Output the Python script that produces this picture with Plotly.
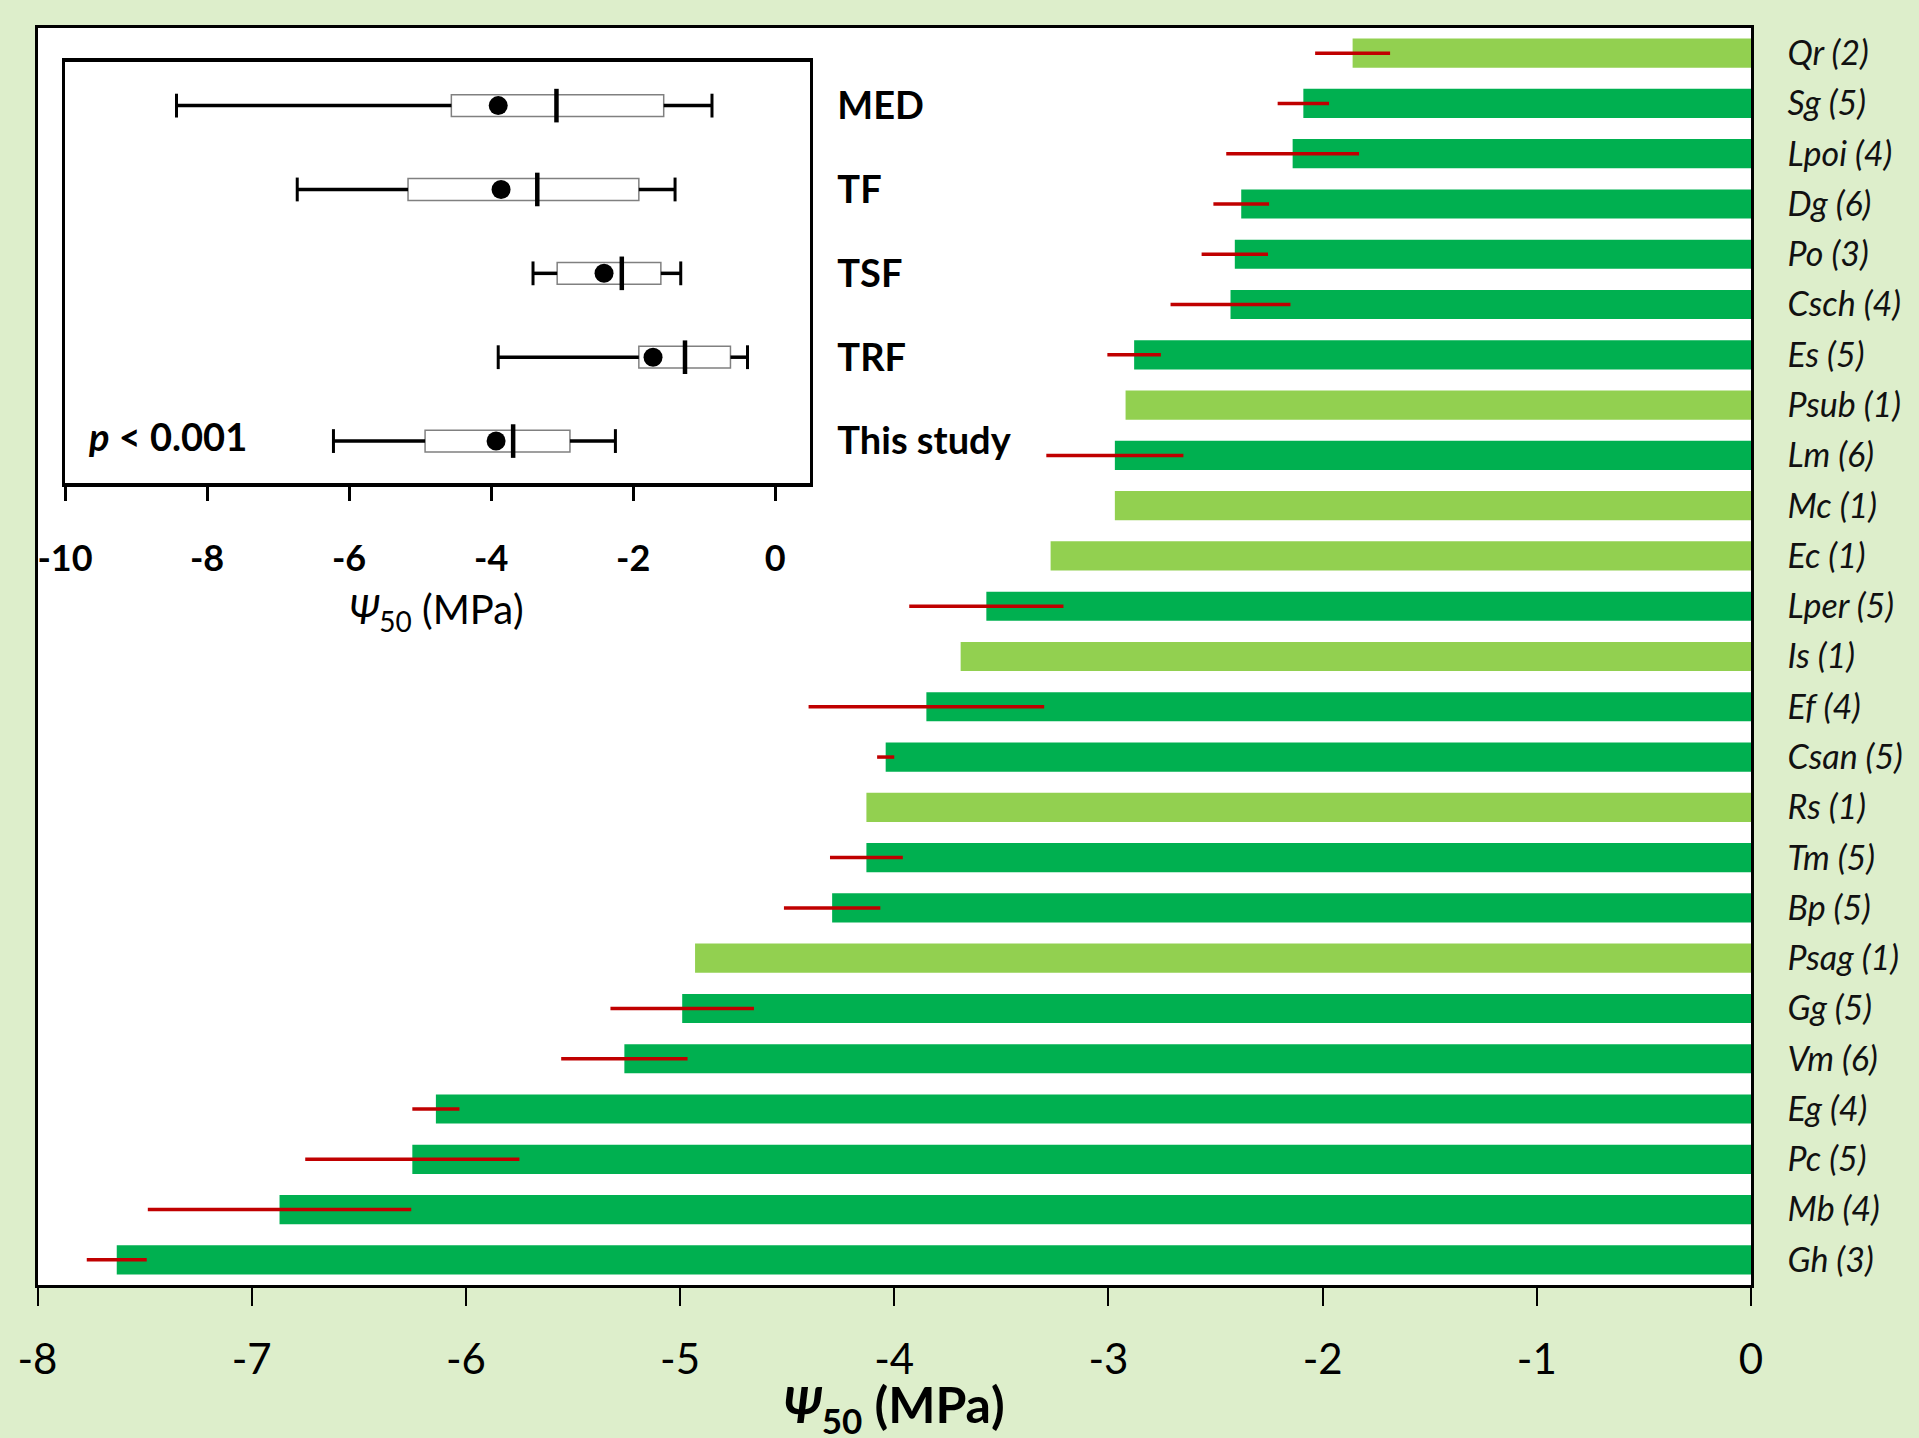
import plotly.graph_objects as go

# ---------------- data ----------------
species = ["Qr (2)", "Sg (5)", "Lpoi (4)", "Dg (6)", "Po (3)", "Csch (4)", "Es (5)",
           "Psub (1)", "Lm (6)", "Mc (1)", "Ec (1)", "Lper (5)", "Is (1)", "Ef (4)",
           "Csan (5)", "Rs (1)", "Tm (5)", "Bp (5)", "Psag (1)", "Gg (5)", "Vm (6)",
           "Eg (4)", "Pc (5)", "Mb (4)", "Gh (3)"]
psi50 = [-1.86, -2.09, -2.14, -2.38, -2.41, -2.43, -2.88, -2.92, -2.97, -2.97, -3.27,
         -3.57, -3.69, -3.85, -4.04, -4.13, -4.13, -4.29, -4.93, -4.99, -5.26, -6.14,
         -6.25, -6.87, -7.63]
psi50_err = [0.175, 0.12, 0.31, 0.13, 0.155, 0.28, 0.125, None, 0.32, None, None,
             0.36, None, 0.55, 0.04, None, 0.17, 0.225, None, 0.335, 0.295, 0.11,
             0.50, 0.615, 0.14]
bar_group = ["light", "dark", "dark", "dark", "dark", "dark", "dark", "light", "dark",
             "light", "light", "dark", "light", "dark", "dark", "light", "dark", "dark",
             "light", "dark", "dark", "dark", "dark", "dark", "dark"]

main_ticks = [-8, -7, -6, -5, -4, -3, -2, -1, 0]

# inset box plot summary
groups = ["MED", "TF", "TSF", "TRF", "This study"]
box_lower = [-8.43, -6.73, -3.41, -3.90, -6.22]
box_q1 = [-4.56, -5.17, -3.07, -1.92, -4.93]
box_median = [-3.08, -3.35, -2.16, -1.27, -3.69]
box_q3 = [-1.57, -1.92, -1.61, -0.63, -2.89]
box_upper = [-0.89, -1.41, -1.33, -0.39, -2.25]
box_mean = [-3.90, -3.86, -2.41, -1.72, -3.93]
inset_ticks = [-10, -8, -6, -4, -2, 0]
p_text = "<b><i>p</i> &lt; 0.001</b>"

# ---------------- style ----------------
W, H = 1919, 1438
BG = "#DDEECB"
COL = {"light": "#92D050", "dark": "#00B050"}
RED = "#C00000"
FONT = "Lato, 'Open Sans', sans-serif"

fig = go.Figure()

err_vals = [e if e is not None else float("nan") for e in psi50_err]
fig.add_trace(go.Bar(
    x=psi50, y=species, orientation="h",
    marker=dict(color=[COL[g] for g in bar_group], line=dict(width=0)),
    error_x=dict(type="data", array=err_vals, symmetric=True, color=RED,
                 thickness=3.5, width=0),
    xaxis="x", yaxis="y", showlegend=False,
))

# inset: boxes
fig.add_trace(go.Box(
    y=groups, q1=box_q1, median=box_median, q3=box_q3,
    lowerfence=box_q1, upperfence=box_q3, orientation="h",
    width=0.26, whiskerwidth=0, fillcolor="white",
    line=dict(color="#808080", width=1.5), boxpoints=False,
    xaxis="x2", yaxis="y2", showlegend=False,
))
# whiskers
wx, wy = [], []
for g, lo, a, b, hi in zip(groups, box_lower, box_q1, box_q3, box_upper):
    wx += [lo, a, None, b, hi, None]
    wy += [g, g, None, g, g, None]
fig.add_trace(go.Scatter(x=wx, y=wy, mode="lines", line=dict(color="black", width=3.5),
                         xaxis="x2", yaxis="y2", showlegend=False))
# whisker caps
fig.add_trace(go.Scatter(
    x=box_lower + box_upper, y=groups + groups, mode="markers",
    marker=dict(symbol="line-ns", size=17, line=dict(color="black", width=3)),
    xaxis="x2", yaxis="y2", showlegend=False))
# medians
fig.add_trace(go.Scatter(
    x=box_median, y=groups, mode="markers",
    marker=dict(symbol="line-ns", size=24, line=dict(color="black", width=4.5)),
    xaxis="x2", yaxis="y2", showlegend=False))
# means
fig.add_trace(go.Scatter(
    x=box_mean, y=groups, mode="markers",
    marker=dict(symbol="circle", size=19, color="black"),
    xaxis="x2", yaxis="y2", showlegend=False))

def px_x(p):
    return p / W

def px_y(p):
    return 1 - p / H

fig.update_layout(
    width=W, height=H,
    paper_bgcolor=BG, plot_bgcolor="white",
    margin=dict(l=0, r=0, t=0, b=0),
    font=dict(family=FONT, color="black"),
    bargap=0.42,
    xaxis=dict(
        domain=[px_x(37.5), px_x(1751)], range=[-8, 0], anchor="y",
        tickvals=main_ticks, ticktext=[str(t) for t in main_ticks],
        ticks="outside", ticklen=18, tickwidth=2, tickcolor="black",
        tickfont=dict(size=42, family=FONT),
        ticklabelstandoff=18,
        showline=True, linecolor="black", linewidth=3, mirror=True,
        showgrid=False, zeroline=False, automargin=False, fixedrange=True,
    ),
    yaxis=dict(
        domain=[px_y(1285), px_y(28)], anchor="x", side="right",
        type="category", categoryorder="array", categoryarray=species,
        range=[24.5, -0.5],
        tickfont=dict(size=34, family=FONT, style="italic", color="#111"),
        ticks="", ticklabelstandoff=27,
        showline=True, linecolor="black", linewidth=2.5, mirror=True,
        showgrid=False, zeroline=False, automargin=False, fixedrange=True,
    ),
    xaxis2=dict(
        domain=[px_x(65), px_x(810)], range=[-10, 0.49], anchor="y2",
        tickvals=inset_ticks, ticktext=[str(t) for t in inset_ticks],
        ticks="outside", ticklen=14, tickwidth=2.5, tickcolor="black",
        tickfont=dict(size=36, family=FONT, weight="bold"),
        ticklabelstandoff=27,
        showline=True, linecolor="black", linewidth=3.5, mirror=True,
        showgrid=False, zeroline=False, automargin=False, fixedrange=True,
    ),
    yaxis2=dict(
        domain=[px_y(483), px_y(62)], anchor="x2", side="right",
        type="category", categoryorder="array", categoryarray=groups,
        range=[4.5, -0.52],
        tickfont=dict(size=38, family=FONT, weight="bold"),
        ticks="", ticklabelstandoff=17,
        showline=True, linecolor="black", linewidth=2.5, mirror=True,
        showgrid=False, zeroline=False, automargin=False, fixedrange=True,
    ),
    annotations=[
        dict(text="<b><i>Ψ</i><sub>50</sub> (MPa)</b>", xref="paper", yref="paper",
             x=px_x(894), y=px_y(1407), xanchor="center", yanchor="middle",
             showarrow=False, font=dict(size=50, family=FONT)),
        dict(text="<i>Ψ</i><sub>50</sub> (MPa)", xref="paper", yref="paper",
             x=px_x(436), y=px_y(612), xanchor="center", yanchor="middle",
             showarrow=False, font=dict(size=40, family=FONT)),
        dict(text=p_text, xref="x2 domain", yref="y2",
             x=0.028, y="This study", xanchor="left", yanchor="middle", yshift=5,
             showarrow=False, font=dict(size=38, family=FONT)),
    ],
)

post = ("document.body.style.margin='0';document.body.style.padding='0';"
        "document.body.style.background='%s';"
        "document.documentElement.style.background='%s';"
        "document.body.style.overflow='hidden';" % (BG, BG))
fig.write_html("out.html", post_script=post, config={"displayModeBar": False})
